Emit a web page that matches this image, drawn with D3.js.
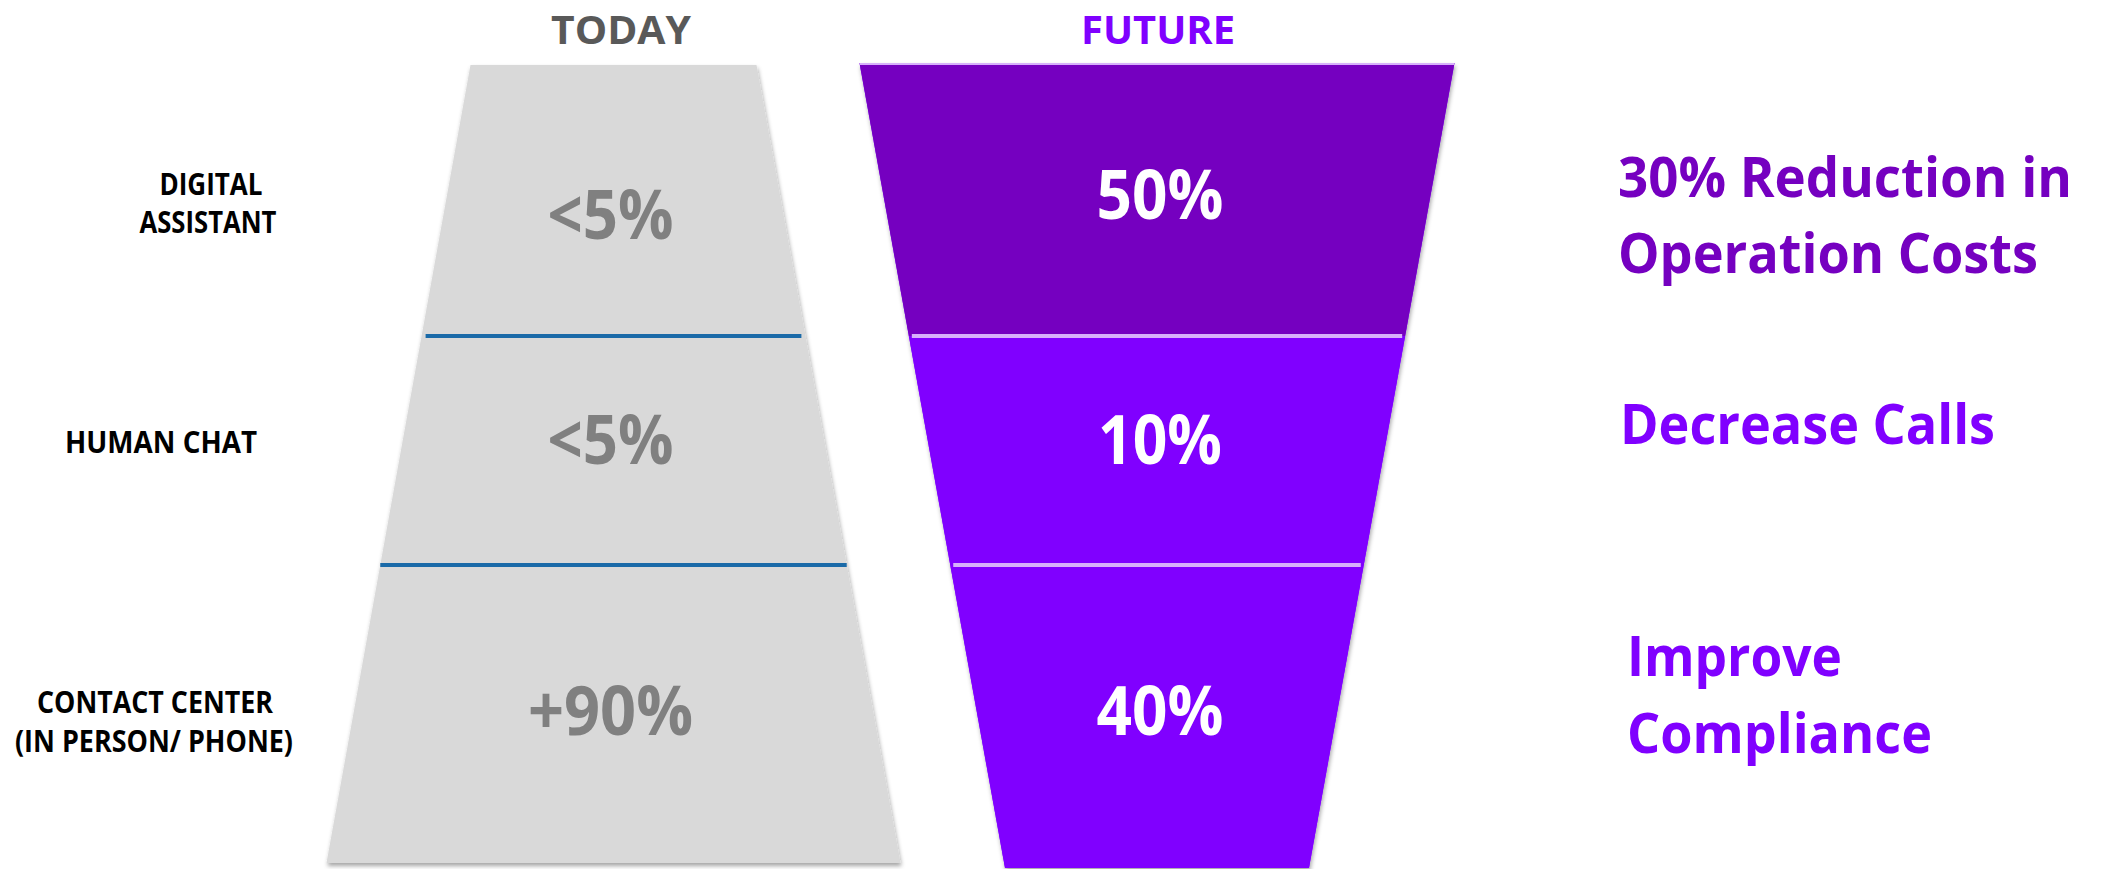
<!DOCTYPE html>
<html>
<head>
<meta charset="utf-8">
<script src="https://cdn.jsdelivr.net/npm/d3@7/dist/d3.min.js"></script>
<style>
  html, body { margin: 0; padding: 0; background: #ffffff; }
  svg { display: block; }
  text { font-family: "Open Sans", "Noto Sans", sans-serif; font-weight: 700; }
</style>
</head>
<body>
<svg id="chart" width="2103" height="869"></svg>
<script>
// ---- data ----
const columns = ["TODAY", "FUTURE"];
const stageLabels = [["DIGITAL", "ASSISTANT"], ["HUMAN CHAT"], ["CONTACT CENTER", "(IN PERSON/ PHONE)"]];
const todayValues = ["<5%", "<5%", "+90%"];
const futureValues = [50, 10, 40];
const benefits = [["30% Reduction in", "Operation Costs"], ["Decrease Calls"], ["Improve", "Compliance"]];

// ---- layout ----
const W = 2103, H = 869;
const bounds = [65, 336, 565, 865];          // stage boundaries (y)
const today = { cx: 613.5, top: 65, bottom: 863, halfTop: 143, halfBottom: 287 };
const future = { cx: 1157, top: 63, bottom: 868, halfTop: 297.5, halfBottom: 152 };
const colors = {
  todayFill: "#d9d9d9", todayLine: "#1a6aa8", todayText: "#808080", todayHead: "#595959",
  futureFills: ["#7500c0", "#8000ff", "#8000ff"], futureSep: "#d7b0fb",
  futureHead: "#8000ff", benefitColors: ["#7500c0", "#8000ff", "#8000ff"], label: "#000000"
};
const valueBaselines = { today: [239, 464, 735], future: [219, 464, 735] };
const valueWidths = { today: [126, 126, 165], future: [127, 124, 127] };
const labelLayout = [
  { cx: [211, 208], base: [195, 233], w: [103, 137] },
  { cx: [161], base: [453], w: [192] },
  { cx: [155, 154], base: [713, 752], w: [236, 278] }
];
const benefitLayout = [
  { x: 1618, base: [197, 273], w: [454, 420] },
  { x: 1620, base: [444], w: [375] },
  { x: 1627, base: [676, 753], w: [215, 305] }
];

const svg = d3.select("#chart");
const defs = svg.append("defs");
const sh = defs.append("filter").attr("id", "shadow")
  .attr("x", "-10%").attr("y", "-10%").attr("width", "120%").attr("height", "120%");
sh.append("feDropShadow").attr("dx", 1).attr("dy", 3).attr("stdDeviation", 2.2)
  .attr("flood-color", "#000").attr("flood-opacity", 0.35);

// half width of each funnel as a function of y
const todayHalf = d3.scaleLinear().domain([today.top, today.bottom]).range([today.halfTop, today.halfBottom]);
const futureHalf = d3.scaleLinear().domain([future.top, future.bottom]).range([future.halfTop, future.halfBottom]);

const line = d3.line();
function trapezoid(cx, half, y0, y1) {
  return line([[cx - half(y0), y0], [cx + half(y0), y0], [cx + half(y1), y1], [cx - half(y1), y1]]) + "Z";
}
function fit(sel, w) {
  sel.attr("textLength", w).attr("lengthAdjust", "spacingAndGlyphs");
}

// ---- column headings ----
const headX = [621, 1158];
const headW = [140, 154];
const headColor = [colors.todayHead, colors.futureHead];
svg.append("g").selectAll("text").data(columns).join("text")
  .attr("x", (d, i) => headX[i]).attr("y", 43.5)
  .attr("text-anchor", "middle").attr("font-size", 40)
  .attr("fill", (d, i) => headColor[i])
  .text(d => d)
  .each(function (d, i) { fit(d3.select(this), headW[i]); });

// ---- today funnel (single shape with divider lines) ----
const gToday = svg.append("g");
gToday.append("path")
  .attr("d", trapezoid(today.cx, todayHalf, today.top, today.bottom))
  .attr("fill", colors.todayFill)
  .attr("filter", "url(#shadow)");
gToday.selectAll("line").data(bounds.slice(1, 3)).join("line")
  .attr("x1", (d, i) => today.cx - todayHalf(d) + (i === 0 ? 4 : 0))
  .attr("x2", (d, i) => today.cx + todayHalf(d) - (i === 0 ? 4 : 0))
  .attr("y1", d => d).attr("y2", d => d)
  .attr("stroke", colors.todayLine).attr("stroke-width", 4);
gToday.selectAll("text").data(todayValues).join("text")
  .attr("x", today.cx - 3)
  .attr("y", (d, i) => valueBaselines.today[i])
  .attr("text-anchor", "middle").attr("font-size", 68)
  .attr("fill", colors.todayText)
  .text(d => d)
  .each(function (d, i) { fit(d3.select(this), valueWidths.today[i]); });

// ---- future funnel (one slab per stage) ----
const futureBounds = [future.top, bounds[1], bounds[2], future.bottom];
const gFuture = svg.append("g");
gFuture.append("path")
  .attr("d", trapezoid(future.cx, futureHalf, future.top, future.bottom))
  .attr("fill", colors.futureFills[2])
  .attr("filter", "url(#shadow)");
gFuture.selectAll("path.slab").data(futureValues).join("path")
  .attr("class", "slab")
  .attr("d", (d, i) => trapezoid(future.cx, futureHalf, futureBounds[i], futureBounds[i + 1]))
  .attr("fill", (d, i) => colors.futureFills[i]);
gFuture.append("line")
  .attr("x1", future.cx - futureHalf(future.top)).attr("x2", future.cx + futureHalf(future.top))
  .attr("y1", future.top + 1).attr("y2", future.top + 1)
  .attr("stroke", colors.futureSep).attr("stroke-width", 2);
gFuture.selectAll("line.sep").data(bounds.slice(1, 3)).join("line")
  .attr("class", "sep")
  .attr("x1", d => future.cx - futureHalf(d) + 3)
  .attr("x2", d => future.cx + futureHalf(d) - 3)
  .attr("y1", d => d).attr("y2", d => d)
  .attr("stroke", colors.futureSep).attr("stroke-width", 4);
gFuture.selectAll("text").data(futureValues).join("text")
  .attr("x", future.cx + 3)
  .attr("y", (d, i) => valueBaselines.future[i])
  .attr("text-anchor", "middle").attr("font-size", 68)
  .attr("fill", "#ffffff")
  .text(d => d + "%")
  .each(function (d, i) { fit(d3.select(this), valueWidths.future[i]); });

// ---- stage labels (left) ----
const gLabels = svg.append("g");
stageLabels.forEach((lines, s) => {
  const L = labelLayout[s];
  gLabels.append("g").selectAll("text").data(lines).join("text")
    .attr("x", (d, i) => L.cx[i]).attr("y", (d, i) => L.base[i])
    .attr("text-anchor", "middle").attr("font-size", 31)
    .attr("fill", colors.label)
    .text(d => d)
    .each(function (d, i) { fit(d3.select(this), L.w[i]); });
});

// ---- benefits (right) ----
const gBen = svg.append("g");
benefits.forEach((lines, s) => {
  const B = benefitLayout[s];
  gBen.append("g").selectAll("text").data(lines).join("text")
    .attr("x", B.x).attr("y", (d, i) => B.base[i])
    .attr("font-size", 56)
    .attr("fill", colors.benefitColors[s])
    .text(d => d)
    .each(function (d, i) { fit(d3.select(this), B.w[i]); });
});
</script>
</body>
</html>
